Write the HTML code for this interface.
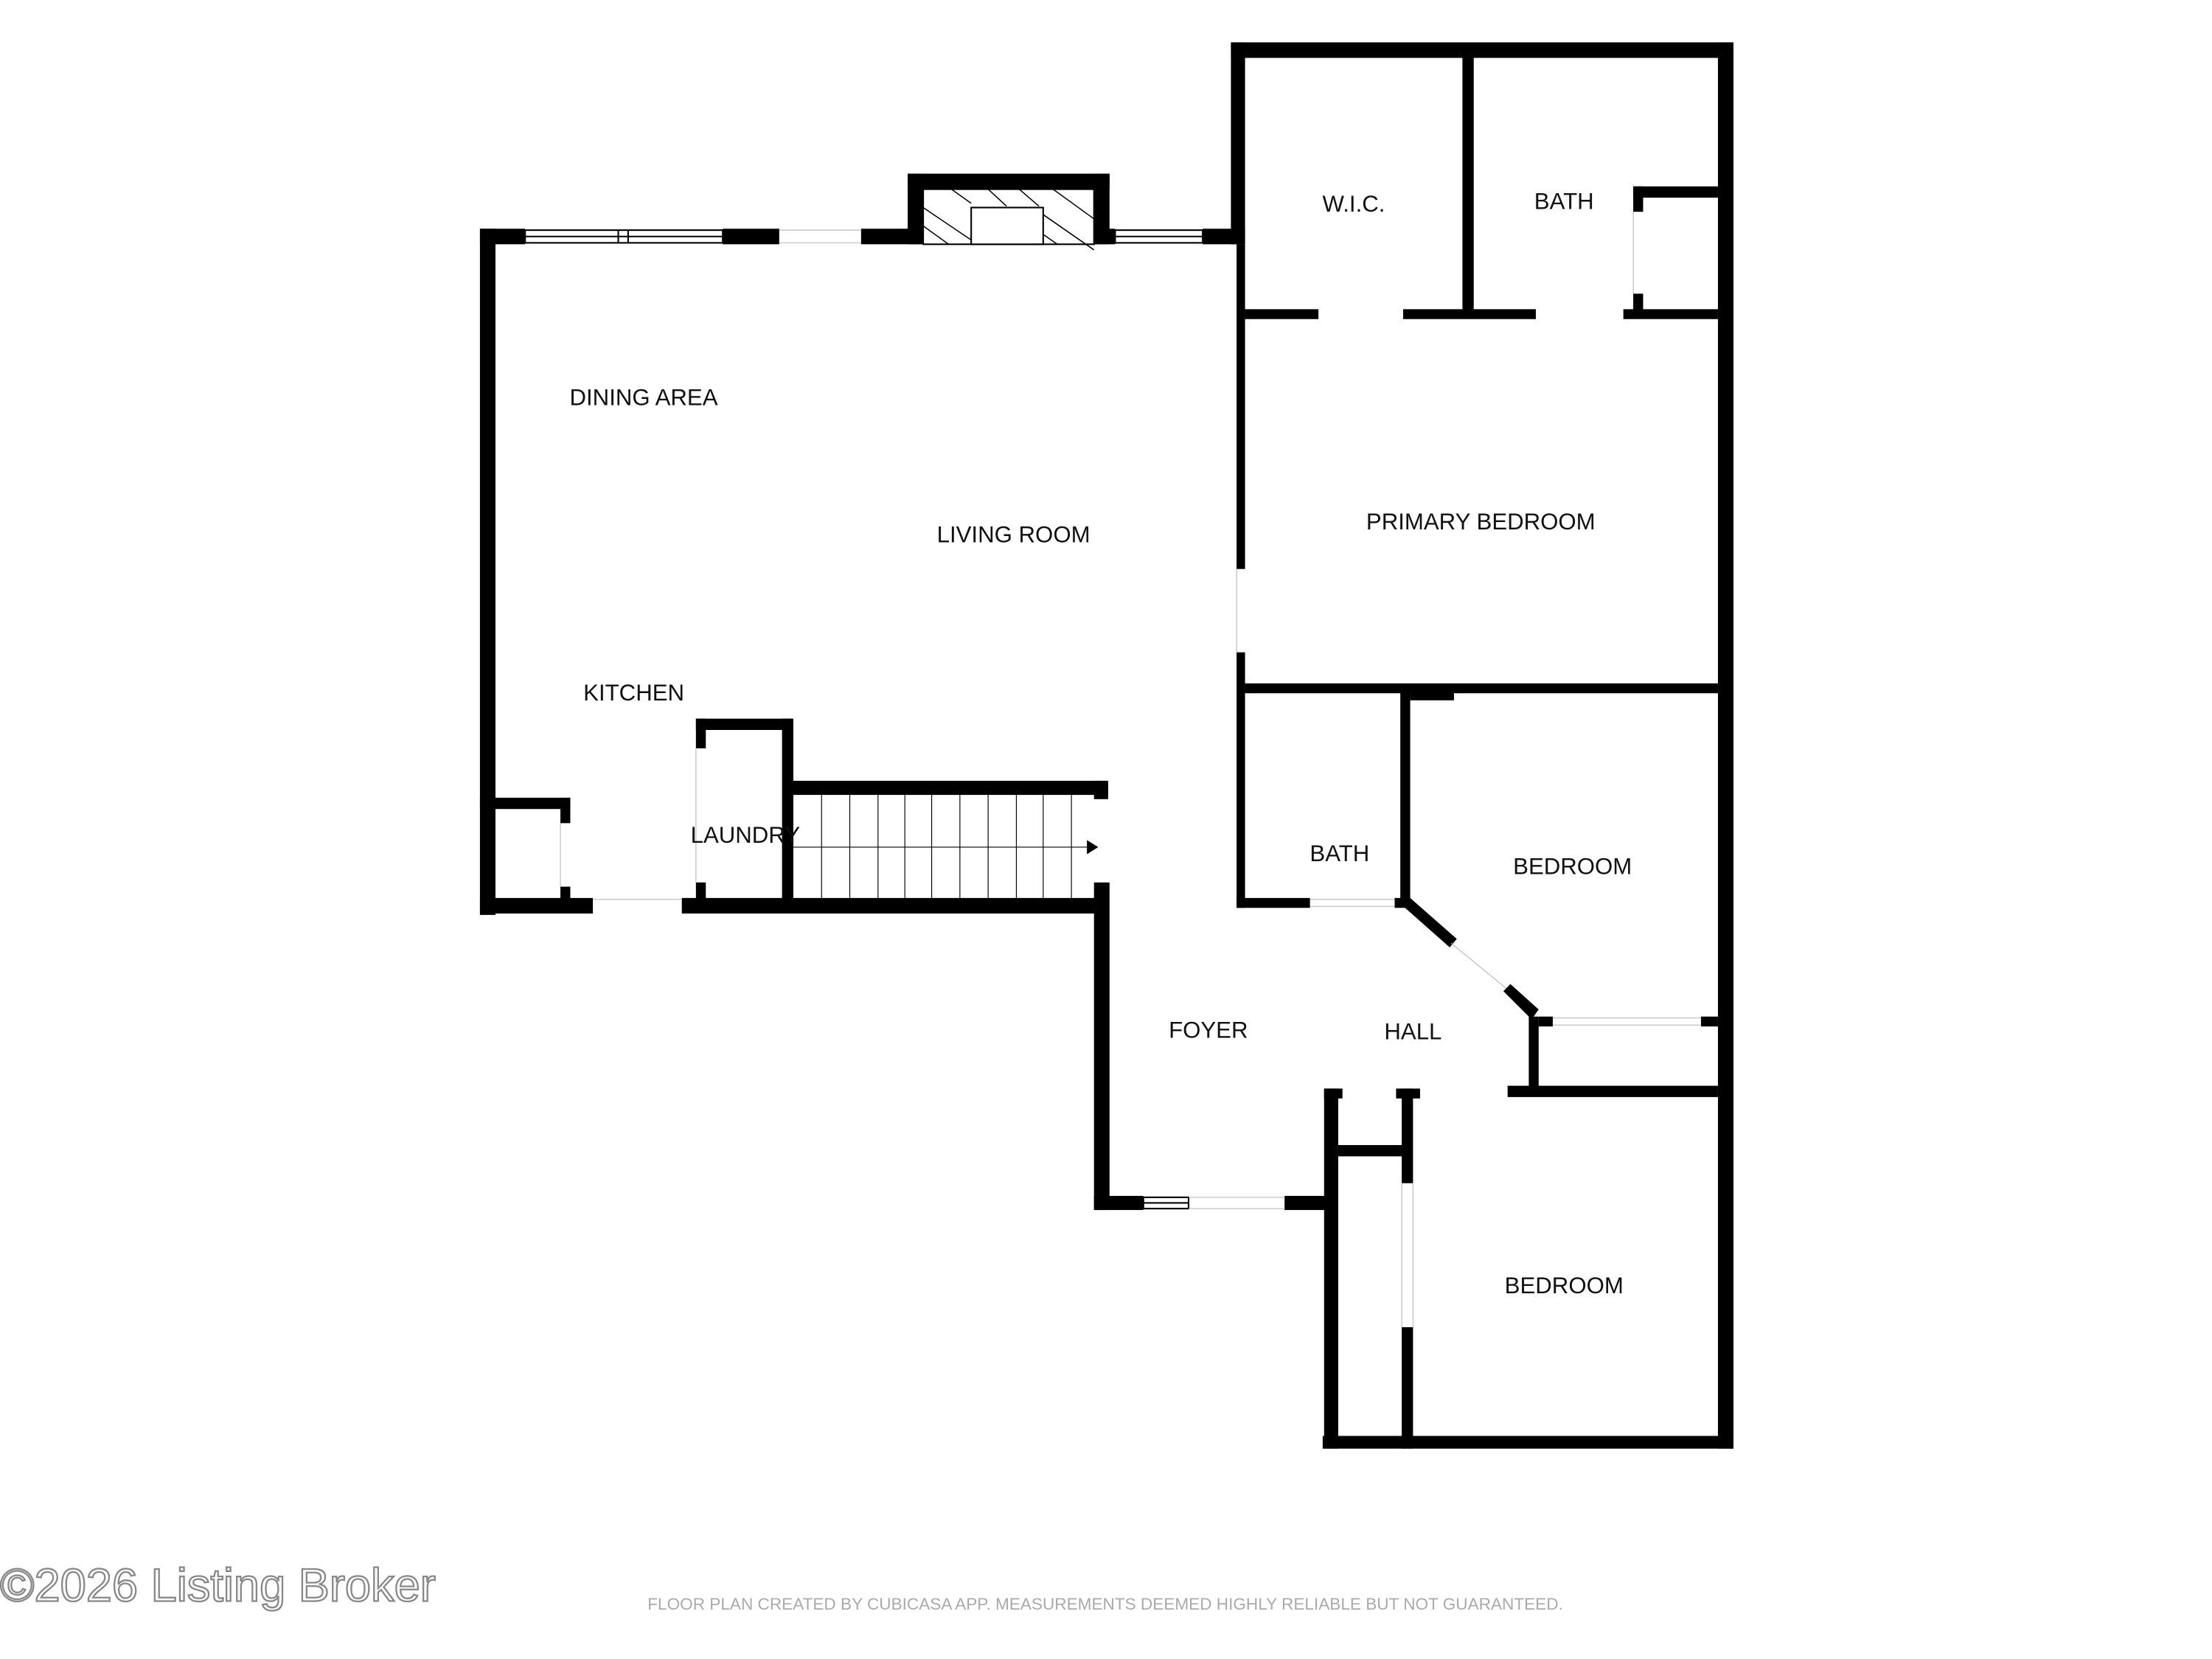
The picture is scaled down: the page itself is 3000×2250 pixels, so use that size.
<!DOCTYPE html>
<html><head><meta charset="utf-8"><style>html,body{margin:0;padding:0;background:#fff}svg{display:block}</style></head>
<body>
<svg width="3000" height="2250" viewBox="0 0 1567 1175" preserveAspectRatio="none" xmlns="http://www.w3.org/2000/svg">
<rect width="1567" height="1175" fill="#fff"/>
<g fill="#000">
<rect x="340" y="162" width="11" height="486"/>
<rect x="340" y="162" width="32" height="11"/>
<rect x="512" y="162" width="40" height="11"/>
<rect x="610" y="162" width="43" height="11"/>
<rect x="643" y="123" width="143" height="11"/>
<rect x="643" y="123" width="11" height="50"/>
<rect x="775" y="123" width="11" height="50"/>
<rect x="775" y="162" width="15" height="11"/>
<rect x="852" y="162" width="30" height="11"/>
<rect x="872" y="30" width="356" height="11"/>
<rect x="872" y="30" width="10" height="143"/>
<rect x="876" y="173" width="6" height="230"/>
<rect x="876" y="462" width="6" height="181"/>
<rect x="1217" y="30" width="11" height="996"/>
<rect x="1036" y="41" width="8" height="184"/>
<rect x="882" y="219" width="52" height="7"/>
<rect x="994" y="219" width="94" height="7"/>
<rect x="1150" y="219" width="67" height="7"/>
<rect x="1157" y="132" width="60" height="8"/>
<rect x="1157" y="132" width="7" height="18"/>
<rect x="1157" y="208" width="7" height="12"/>
<rect x="882" y="484" width="335" height="7"/>
<rect x="992" y="490" width="7" height="150"/>
<rect x="999" y="490" width="31" height="6"/>
<rect x="876" y="636" width="52" height="7"/>
<rect x="988" y="636" width="10" height="7"/>
<polygon points="992,640 999,636 1032,665 1027,671"/>
<polygon points="1065,702 1070,697 1090,715 1085,722"/>
<rect x="1083" y="720" width="7" height="56"/>
<rect x="1090" y="720" width="10" height="7"/>
<rect x="1205" y="720" width="12" height="7"/>
<rect x="1068" y="769" width="149" height="8"/>
<rect x="993" y="771" width="8" height="67"/>
<rect x="989" y="771" width="17" height="7"/>
<rect x="993" y="940" width="8" height="86"/>
<rect x="937" y="1017" width="291" height="9"/>
<rect x="938" y="771" width="10" height="255"/>
<rect x="938" y="771" width="13" height="7"/>
<rect x="948" y="811" width="46" height="8"/>
<rect x="775" y="625" width="11" height="232"/>
<rect x="775" y="847" width="35" height="10"/>
<rect x="910" y="847" width="35" height="10"/>
<rect x="555" y="553" width="230" height="10"/>
<rect x="775" y="553" width="10" height="13"/>
<rect x="483" y="636" width="302" height="11"/>
<rect x="493" y="509" width="68" height="8"/>
<rect x="493" y="509" width="7" height="21"/>
<rect x="493" y="625" width="7" height="15"/>
<rect x="554" y="509" width="8" height="131"/>
<rect x="340" y="565" width="64" height="8"/>
<rect x="397" y="565" width="7" height="18"/>
<rect x="397" y="628" width="7" height="12"/>
<rect x="340" y="636" width="80" height="11"/>
</g>
<g fill="none" stroke="#000" stroke-width="1.1">
<rect x="372" y="163" width="140" height="9"/><line x1="372" y1="167.5" x2="512" y2="167.5"/><line x1="438" y1="163" x2="438" y2="172"/><line x1="445" y1="163" x2="445" y2="172"/>
<rect x="790" y="163" width="62" height="9"/><line x1="790" y1="167.5" x2="852" y2="167.5"/>
<rect x="1101" y="31" width="52" height="9"/><line x1="1101" y1="35.5" x2="1153" y2="35.5"/>
<rect x="1218" y="320" width="9" height="78"/><line x1="1222.5" y1="320" x2="1222.5" y2="398"/>
<rect x="1218" y="560" width="9" height="78"/><line x1="1222.5" y1="560" x2="1222.5" y2="638"/>
<rect x="1038" y="1018" width="50" height="7"/><line x1="1038" y1="1021.5" x2="1088" y2="1021.5"/>
<rect x="810" y="848" width="32" height="8"/><line x1="810" y1="852" x2="842" y2="852"/>
<rect x="654" y="134" width="121" height="39"/>
<rect x="688" y="147" width="51" height="26" fill="#fff"/>
</g>
<g stroke="#000" stroke-width="0.8">
<line x1="674" y1="134" x2="688" y2="144"/><line x1="700" y1="134" x2="713" y2="146"/><line x1="722" y1="134" x2="736" y2="146"/><line x1="746" y1="134" x2="775" y2="155"/>
<line x1="654" y1="147" x2="688" y2="170"/><line x1="654" y1="160" x2="672" y2="173"/>
<line x1="739" y1="152" x2="775" y2="177"/><line x1="739" y1="166" x2="749" y2="173"/>
</g>
<g stroke="#bbb" stroke-width="0.6">
<line x1="552" y1="163" x2="610" y2="163"/><line x1="552" y1="172" x2="610" y2="172"/>
<line x1="420" y1="637" x2="483" y2="637"/>
<line x1="876" y1="403" x2="876" y2="462"/>
<line x1="928" y1="637" x2="988" y2="637"/><line x1="928" y1="642" x2="988" y2="642"/>
<line x1="1100" y1="721" x2="1205" y2="721"/><line x1="1100" y1="726" x2="1205" y2="726"/>
<line x1="842" y1="848" x2="910" y2="848"/><line x1="842" y1="856" x2="910" y2="856"/>
<line x1="993" y1="838" x2="993" y2="940"/><line x1="1001" y1="838" x2="1001" y2="940"/>
<line x1="1028" y1="668" x2="1067" y2="700"/>
<line x1="1157" y1="150" x2="1157" y2="208"/>
<line x1="493" y1="530" x2="493" y2="625"/>
<line x1="397" y1="583" x2="397" y2="628"/>
</g>
<g stroke="#000" stroke-width="0.6">
<line x1="582" y1="563" x2="582" y2="636"/><line x1="602" y1="563" x2="602" y2="636"/><line x1="622" y1="563" x2="622" y2="636"/><line x1="641" y1="563" x2="641" y2="636"/><line x1="660" y1="563" x2="660" y2="636"/><line x1="680" y1="563" x2="680" y2="636"/><line x1="700" y1="563" x2="700" y2="636"/><line x1="720" y1="563" x2="720" y2="636"/><line x1="739" y1="563" x2="739" y2="636"/><line x1="759" y1="563" x2="759" y2="636"/>
<line x1="562" y1="600" x2="772" y2="600"/>
</g>
<polygon points="770,595 778,600 770,605" fill="#000"/>
<g font-family="Liberation Sans, sans-serif" font-size="16.3" fill="#111" text-anchor="middle">
<text x="456" y="287">DINING AREA</text>
<text x="718" y="384">LIVING ROOM</text>
<text x="449" y="496">KITCHEN</text>
<text x="528" y="597">LAUNDRY</text>
<text x="959" y="150">W.I.C.</text>
<text x="1108" y="148">BATH</text>
<text x="1049" y="375">PRIMARY BEDROOM</text>
<text x="949" y="610">BATH</text>
<text x="1114" y="619">BEDROOM</text>
<text x="856" y="735">FOYER</text>
<text x="1001" y="736">HALL</text>
<text x="1108" y="916">BEDROOM</text>
</g>
<text x="0" y="1134" font-family="Liberation Sans, sans-serif" font-size="33" fill="#fff" stroke="#888" stroke-width="1.2">©2026 Listing Broker</text>
<text x="783" y="1140" font-family="Liberation Sans, sans-serif" font-size="11.8" fill="#aaa" text-anchor="middle">FLOOR PLAN CREATED BY CUBICASA APP. MEASUREMENTS DEEMED HIGHLY RELIABLE BUT NOT GUARANTEED.</text>
</svg>
</body></html>
